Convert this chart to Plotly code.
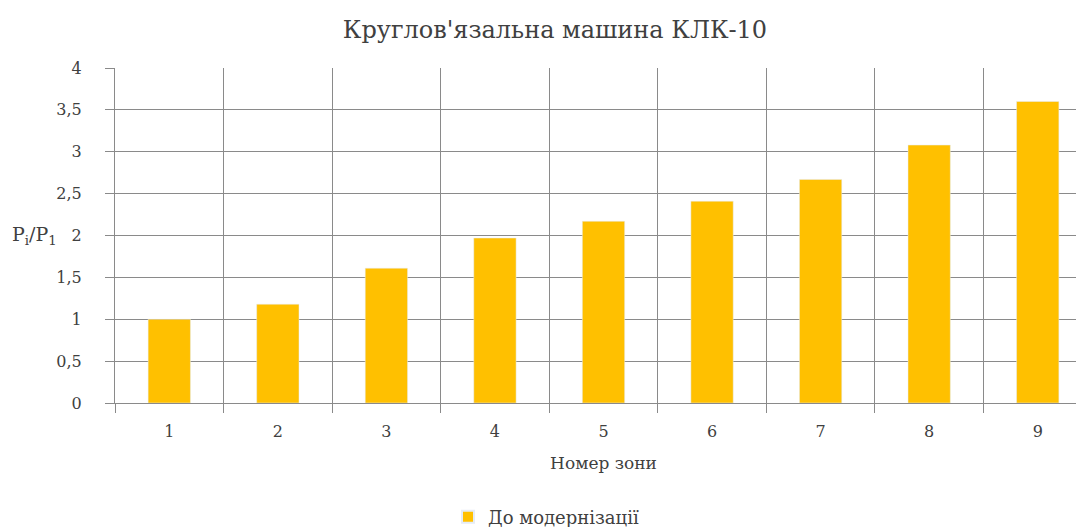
import plotly.graph_objects as go

zones = [1, 2, 3, 4, 5, 6, 7, 8, 9]
ratio = [1.00, 1.18, 1.61, 1.97, 2.17, 2.41, 2.67, 3.08, 3.60]
series_name = "До модернізації"
y_tickvals = [0, 0.5, 1, 1.5, 2, 2.5, 3, 3.5, 4]
y_ticktext = ["0", "0,5", "1", "1,5", "2", "2,5", "3", "3,5", "4"]

W, H = 1084, 527
FONT = "DejaVu Serif, Liberation Serif, serif"
GRID = "#8a8a8a"
TXT = "#404040"
L, T, B = 107, 60, 132
PW = W - L

fig = go.Figure()
fig.add_trace(go.Bar(x=zones, y=ratio, name=series_name, marker_color="#FFC000",
                     width=0.39, showlegend=True))

fig.update_layout(
    width=W, height=H,
    paper_bgcolor="white", plot_bgcolor="white",
    margin=dict(l=L, r=0, t=T, b=B),
    font=dict(family=FONT, size=16, color=TXT),
    title=dict(text="Круглов'язальна машина КЛК-10", x=547 / W, xref="container",
               xanchor="center", y=1 - 22 / H, yref="container", yanchor="middle",
               font=dict(family=FONT, size=24, color=TXT)),
    showlegend=True,
    legend=dict(orientation="h", xref="container", yref="container",
                x=538 / W, xanchor="center", y=1 - 509 / H, yanchor="middle",
                font=dict(family=FONT, size=18, color=TXT),
                itemwidth=30, itemsizing="constant"),
    xaxis=dict(range=[0.5, 9.5], tickvals=zones, ticktext=[str(z) for z in zones],
               showgrid=False, zeroline=False, showline=True, linecolor=GRID, linewidth=1,
               ticks="", ticklabelstandoff=14, tickfont=dict(family=FONT, size=16, color=TXT),
               minor=dict(tick0=0.5, dtick=1, showgrid=True, gridcolor=GRID, gridwidth=1,
                          ticks="outside", ticklen=9, tickcolor=GRID),
               title=dict(text="Номер зони", font=dict(family=FONT, size=17, color=TXT),
                          standoff=16)),
    yaxis=dict(range=[0, 4], tickvals=y_tickvals, ticktext=y_ticktext,
               showgrid=True, gridcolor=GRID, gridwidth=1, zeroline=False,
               showline=True, linecolor=GRID, linewidth=1,
               ticks="outside", ticklen=9, tickcolor=GRID, ticklabelstandoff=20,
               tickfont=dict(family=FONT, size=16, color=TXT)),
    annotations=[dict(text="P<sub>i</sub>/P<sub>1</sub>", xref="paper", yref="paper",
                      x=-105 / PW, y=0.5, xanchor="left", yanchor="middle", showarrow=False,
                      font=dict(family=FONT, size=19, color=TXT))],
)

fig.write_html("out.html")
